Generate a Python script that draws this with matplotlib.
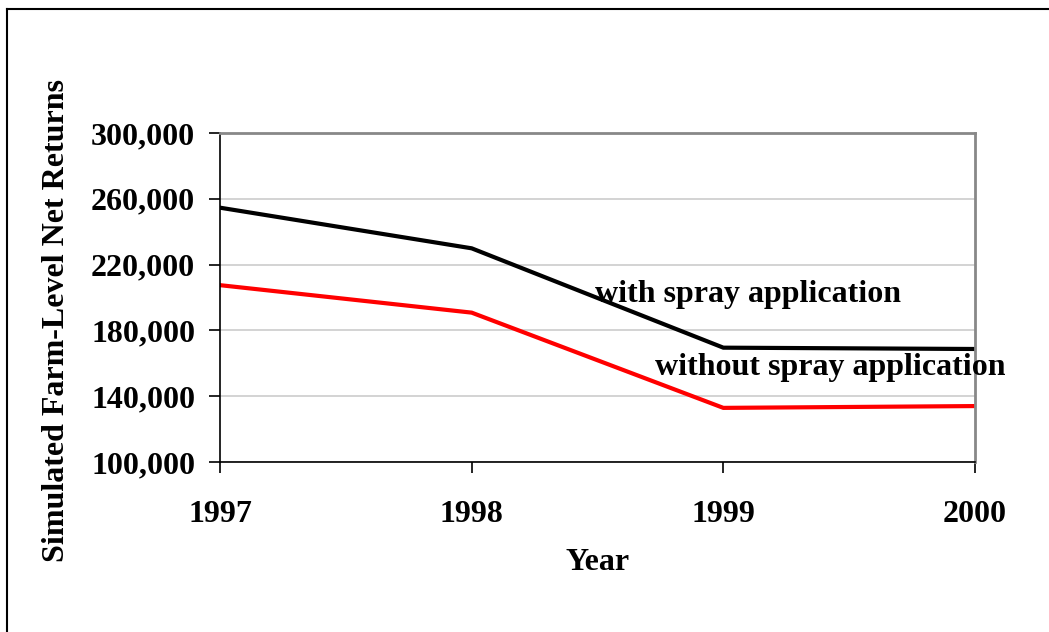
import matplotlib.pyplot as plt
from matplotlib.ticker import FuncFormatter
from matplotlib.lines import Line2D

# data
years = [1997, 1998, 1999, 2000]
with_spray = [254600, 229900, 169500, 168700]
without_spray = [207500, 190800, 132900, 134000]
yticks = [100000, 140000, 180000, 220000, 260000, 300000]

plt.rcParams['font.family'] = ['Liberation Serif', 'DejaVu Serif']
plt.rcParams['font.weight'] = 'bold'

W, H = 1049, 632
fig = plt.figure(figsize=(W / 100, H / 100), dpi=100)
ax = fig.add_axes([220 / W, 1 - 462 / H, (975 - 220) / W, (462 - 133) / H])

ax.plot(years, with_spray, color='black', lw=3, solid_joinstyle='miter')
ax.plot(years, without_spray, color='red', lw=3, solid_joinstyle='miter')

ax.set_xlim(1997, 2000)
ax.set_ylim(100000, 300000)
ax.set_xticks(years)
ax.set_yticks(yticks)
ax.yaxis.set_major_formatter(FuncFormatter(lambda v, p: f'{int(v):,}'))
ax.grid(axis='y', color='#cccccc', lw=1.2)
ax.set_axisbelow(True)

for s in ['top', 'right']:
    ax.spines[s].set_color('#888888')
    ax.spines[s].set_linewidth(2)
for s in ['left', 'bottom']:
    ax.spines[s].set_color('black')
    ax.spines[s].set_linewidth(1.2)

ax.tick_params(axis='both', direction='out', length=8, width=1.2, labelsize=23)
ax.tick_params(axis='y', pad=10)
ax.tick_params(axis='x', pad=19)
for lab in ax.get_xticklabels() + ax.get_yticklabels():
    lab.set_fontweight('bold')

ax.set_xlabel('Year', fontsize=23, fontweight='bold', labelpad=14)
ax.set_ylabel('Simulated Farm-Level Net Returns', fontsize=23, fontweight='bold')
ax.yaxis.set_label_coords(-0.198, 0.43)

ax.text(1998.49, 202000, 'with spray application', fontsize=23, fontweight='bold',
        ha='left', va='center', clip_on=False)
ax.text(1998.73, 157500, 'without spray application', fontsize=23, fontweight='bold',
        ha='left', va='center', clip_on=False)

# outer frame
fig.add_artist(Line2D([7 / W, 1.0], [1 - 9 / H, 1 - 9 / H], color='black', lw=1.5,
                      transform=fig.transFigure))
fig.add_artist(Line2D([7 / W, 7 / W], [0, 1 - 9 / H], color='black', lw=1.5,
                      transform=fig.transFigure))

fig.savefig('out.png', dpi=100)
